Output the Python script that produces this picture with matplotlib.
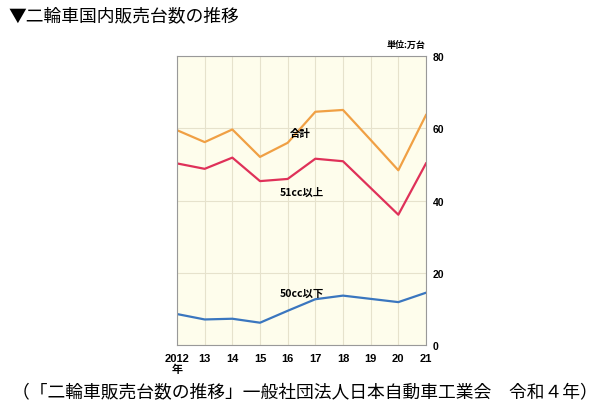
import matplotlib
matplotlib.use("Agg")
import matplotlib.pyplot as plt

plt.rcParams['font.family'] = ['Noto Sans CJK JP', 'DejaVu Sans']
num_font = ['Liberation Sans', 'Noto Sans CJK JP']

years = ["2012\n年", "13", "14", "15", "16", "17", "18", "19", "20", "21"]
total = [59.5, 56.2, 59.7, 52.1, 56.0, 64.6, 65.1, 56.8, 48.4, 63.7]
over51 = [50.3, 48.8, 51.9, 45.4, 46.0, 51.6, 50.9, 43.5, 36.1, 50.3]
under50 = [8.6, 7.1, 7.3, 6.2, 9.5, 12.7, 13.7, 12.8, 11.9, 14.5]
yticks = [0, 20, 40, 60, 80]

fig = plt.figure(figsize=(6, 4.14), dpi=100)
ax = fig.add_axes([0.295, 0.164, 0.415, 0.698])
ax.set_facecolor('#fefdec')
x = list(range(len(years)))

ax.plot(x, total, color='#f0a044', lw=1.6)
ax.plot(x, over51, color='#df3159', lw=1.6)
ax.plot(x, under50, color='#3a76bf', lw=1.6)

ax.set_xlim(0, len(years) - 1)
ax.set_ylim(0, 80)
ax.set_xticks(x)
ax.set_xticklabels(years, fontsize=8, fontweight='bold', linespacing=1.0, family=num_font)
ax.set_yticks(yticks)
ax.set_yticklabels([str(v) for v in yticks], fontsize=7.5, fontweight='bold', family=num_font)
ax.yaxis.tick_right()
ax.tick_params(length=0, pad=5)
ax.tick_params(axis='x', pad=6)
for s in ax.spines.values():
    s.set_color('#999999')
    s.set_linewidth(0.8)
ax.grid(True, color='#e6e2cc', lw=0.8)
ax.set_axisbelow(True)

ax.text(4.45, 58.6, "合計", fontsize=7.5, fontweight='bold', ha='center', va='center')
ax.text(4.5, 42.6, "51cc以上", fontsize=7.5, fontweight='bold', ha='center', va='center')
ax.text(4.5, 14.4, "50cc以下", fontsize=7.5, fontweight='bold', ha='center', va='center')

fig.text(406/600, 1 - 45.7/414, "単位:万台", fontsize=6.5, fontweight='bold', ha='center', va='center')
fig.text(8/600, 1 - 16/414, "▼二輪車国内販売台数の推移", fontsize=12.8, ha='left', va='center')
fig.text(305/600, 1 - 393/414, "（「二輪車販売台数の推移」一般社団法人日本自動車工業会　令和４年）",
         fontsize=12.8, ha='center', va='center')

fig.savefig("out.png", dpi=100)
